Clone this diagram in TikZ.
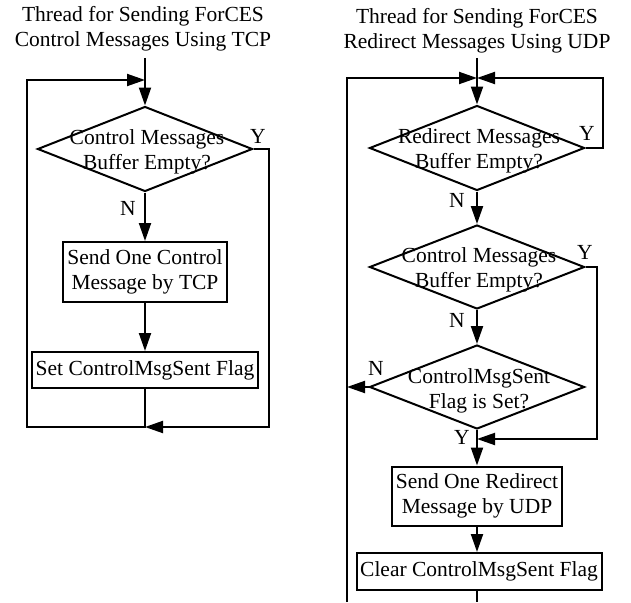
\documentclass[tikz,border=0pt]{standalone}
\usepackage{fontspec}
\setmainfont{Liberation Serif}
\usetikzlibrary{shapes.geometric,arrows.meta}

\tikzset{
  every node/.style={font=\fontsize{21.5}{25.5}\selectfont},
  flow/.style={line width=2pt},
  arr/.style={flow,-{Triangle[length=18pt,width=12pt]}},
  decision/.style={diamond,draw,line width=2pt,inner sep=0pt,
                   minimum width=215pt,minimum height=85pt},
  txt/.style={align=center,inner sep=0pt},
  procbox/.style={rectangle,draw,line width=2pt,align=center,inner sep=0pt},
  lab/.style={inner sep=0pt}
}

\begin{document}
\begin{tikzpicture}[x=1pt,y=-1pt]
\useasboundingbox (0,0) rectangle (631,602);

% ---------- thread 1: control messages over TCP ----------
\node[txt] (t1) at (143,29) {Thread for Sending ForCES\\Control Messages Using TCP};
\coordinate (in1) at (145,58);
\coordinate (j1) at (145,80);

\node[decision] (d1) at (145,149) {};
\node[txt] (d1t) at (147,152) {Control Messages\\Buffer Empty?};
\node[procbox,minimum width=164pt,minimum height=60pt] (b1) at (145,272)
  {Send One Control\\Message by TCP};
\node[procbox,minimum width=226pt,minimum height=36pt] (b2) at (145,370)
  {Set ControlMsgSent Flag};

\coordinate (m1) at (145,427);
\coordinate (ll1) at (27,427);
\coordinate (ul1) at (27,80);
\coordinate (r1) at (269,149);
\coordinate (rb1) at (269,427);

\draw[arr] (in1) -- (d1.north);
\draw[arr] (d1.south) -- (b1.north);
\draw[arr] (b1.south) -- (b2.north);
\draw[arr] (b2.south) -- (m1) -- (ll1) -- (ul1) -- (j1);
\draw[arr] (d1.east) -- (r1) -- (rb1) -- (m1);

\node[lab] (y1) at (258,136) {Y};
\node[lab] (n1) at (128,208) {N};

% ---------- thread 2: redirect messages over UDP ----------
\node[txt] (t2) at (477,31) {Thread for Sending ForCES\\Redirect Messages Using UDP};
\coordinate (in2) at (477,58);
\coordinate (j2) at (477,78);

\node[decision] (dA) at (477,148) {};
\node[txt] (dAt) at (479,151) {Redirect Messages\\Buffer Empty?};
\node[decision,minimum height=84pt] (dB) at (477,267) {};
\node[txt] (dBt) at (479,270) {Control Messages\\Buffer Empty?};
\node[decision,minimum height=84pt] (dC) at (477,387) {};
\node[txt] (dCt) at (479,391) {ControlMsgSent\\Flag is Set?};
\node[procbox,minimum width=170pt,minimum height=59pt] (b3) at (477,496)
  {Send One Redirect\\Message by UDP};
\node[procbox,minimum width=245pt,minimum height=37pt] (b4) at (479,571.5)
  {Clear ControlMsgSent Flag};

\coordinate (lb2) at (347,602);
\coordinate (lt2) at (347,78);
\coordinate (lm2) at (347,387);
\coordinate (rA) at (603,148);
\coordinate (rAt) at (603,78);
\coordinate (rB) at (597,267);
\coordinate (rBb) at (597,439);
\coordinate (m2) at (477,439);
\coordinate (e2) at (477,602);

\draw[arr] (in2) -- (dA.north);
\draw[arr] (lb2) -- (lt2) -- (j2);
\draw[arr] (dA.east) -- (rA) -- (rAt) -- (j2);
\draw[arr] (dA.south) -- (dB.north);
\draw[arr] (dB.south) -- (dC.north);
\draw[arr] (dB.east) -- (rB) -- (rBb) -- (m2);
\draw[arr] (dC.west) -- (lm2);
\draw[arr] (dC.south) -- (b3.north);
\draw[arr] (b3.south) -- (b4.north -| b3.south);
\draw[flow] (b4.south -| b3.south) -- (e2);

\node[lab] (yA) at (587,133) {Y};
\node[lab] (nA) at (457,200) {N};
\node[lab] (yB) at (585,252) {Y};
\node[lab] (nB) at (457,320) {N};
\node[lab] (nC) at (376,368) {N};
\node[lab] (yC) at (462,437) {Y};
\end{tikzpicture}
\end{document}
